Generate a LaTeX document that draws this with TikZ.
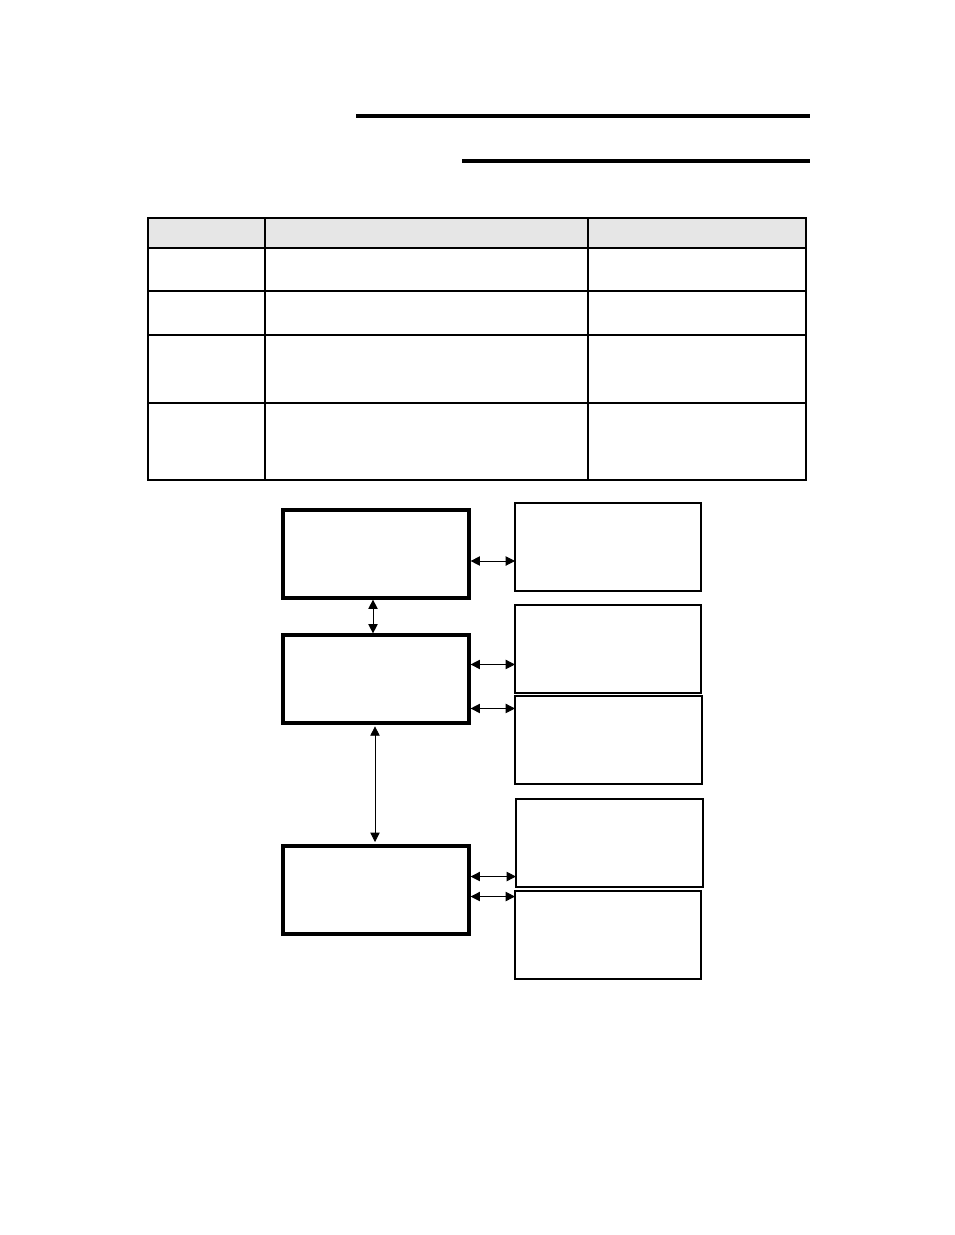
\documentclass[tikz,border=0pt]{standalone}
\usepackage{xcolor}
\usetikzlibrary{arrows.meta,positioning}
\definecolor{cabeca}{HTML}{E6E6E6}
\definecolor{traco}{HTML}{000000}
\tikzset{
  bloco/.style={draw=traco, line width=2.4pt, minimum width=139.5pt, minimum height=66pt,
    anchor=north west, inner sep=0pt, outer sep=0pt},
  caixa/.style={draw=traco, line width=1.1pt, minimum width=139.5pt, minimum height=66pt,
    anchor=north west, inner sep=0pt, outer sep=0pt},
  grelha/.style={draw=traco, line width=1.3pt},
  seta/.style={{Triangle[length=7pt,width=7pt]}-{Triangle[length=7pt,width=7pt]}, draw=traco, line width=0.75pt},
}

\begin{document}
\begin{tikzpicture}[x=0.75pt, y=-0.75pt]
    \useasboundingbox (0,0) rectangle (954,1235);
    % title rules
    \draw[line width=2.5pt] (356,116) -- (810,116);
    \draw[line width=3pt] (462,161) -- (810,161);
    % table
    \fill[cabeca] (148,218) rectangle (806,248);
    \draw[grelha] (148,218) rectangle (806,480);
    \foreach \y in {248,291,335,403} \draw[grelha] (148,\y) -- (806,\y);
    \foreach \x in {265,588} \draw[grelha] (\x,218) -- (\x,480);
    % left blocks
    \node[bloco] (l1) at (283,510) {};
    \node[bloco] (l2) at (283,635) {};
    \node[bloco] (l3) at (283,846) {};
    % right boxes
    \node[caixa] (r1) at (515,503) {};
    \node[caixa] (r2) at (515,605) {};
    \node[caixa, minimum width=140.25pt] (r3) at (515,696) {};
    \node[caixa, line width=1.6pt, minimum width=140.25pt] (r4) at (516,799) {};
    \node[caixa] (r5) at (515,891) {};
    % connectors
    \draw[seta, shorten <=1.2pt] ([yshift=-5.25pt]l1.east) -- ([yshift=-5.25pt]l1.east -| r1.west);
    \draw[seta, shorten <=1.2pt, shorten >=1.2pt] ([xshift=-2.25pt]l1.south) -- ([xshift=-2.25pt]l2.north);
    \draw[seta, shorten <=1.2pt] ([yshift=10.9pt]l2.east) -- ([yshift=10.9pt]l2.east -| r2.west);
    \draw[seta, shorten <=1.2pt] ([yshift=-22.1pt]l2.east) -- ([yshift=-22.1pt]l2.east -| r3.west);
    \draw[seta, line width=0.6pt, shorten <=2.5pt, shorten >=3pt] ([xshift=-0.75pt]l2.south) -- ([xshift=-0.75pt]l3.north);
    \draw[seta, shorten <=1.2pt] ([yshift=10.1pt]l3.east) -- ([yshift=10.1pt]l3.east -| r4.west);
    \draw[seta, shorten <=1.2pt] ([yshift=-4.9pt]l3.east) -- ([yshift=-4.9pt]l3.east -| r5.west);
  \end{tikzpicture}
\end{document}
